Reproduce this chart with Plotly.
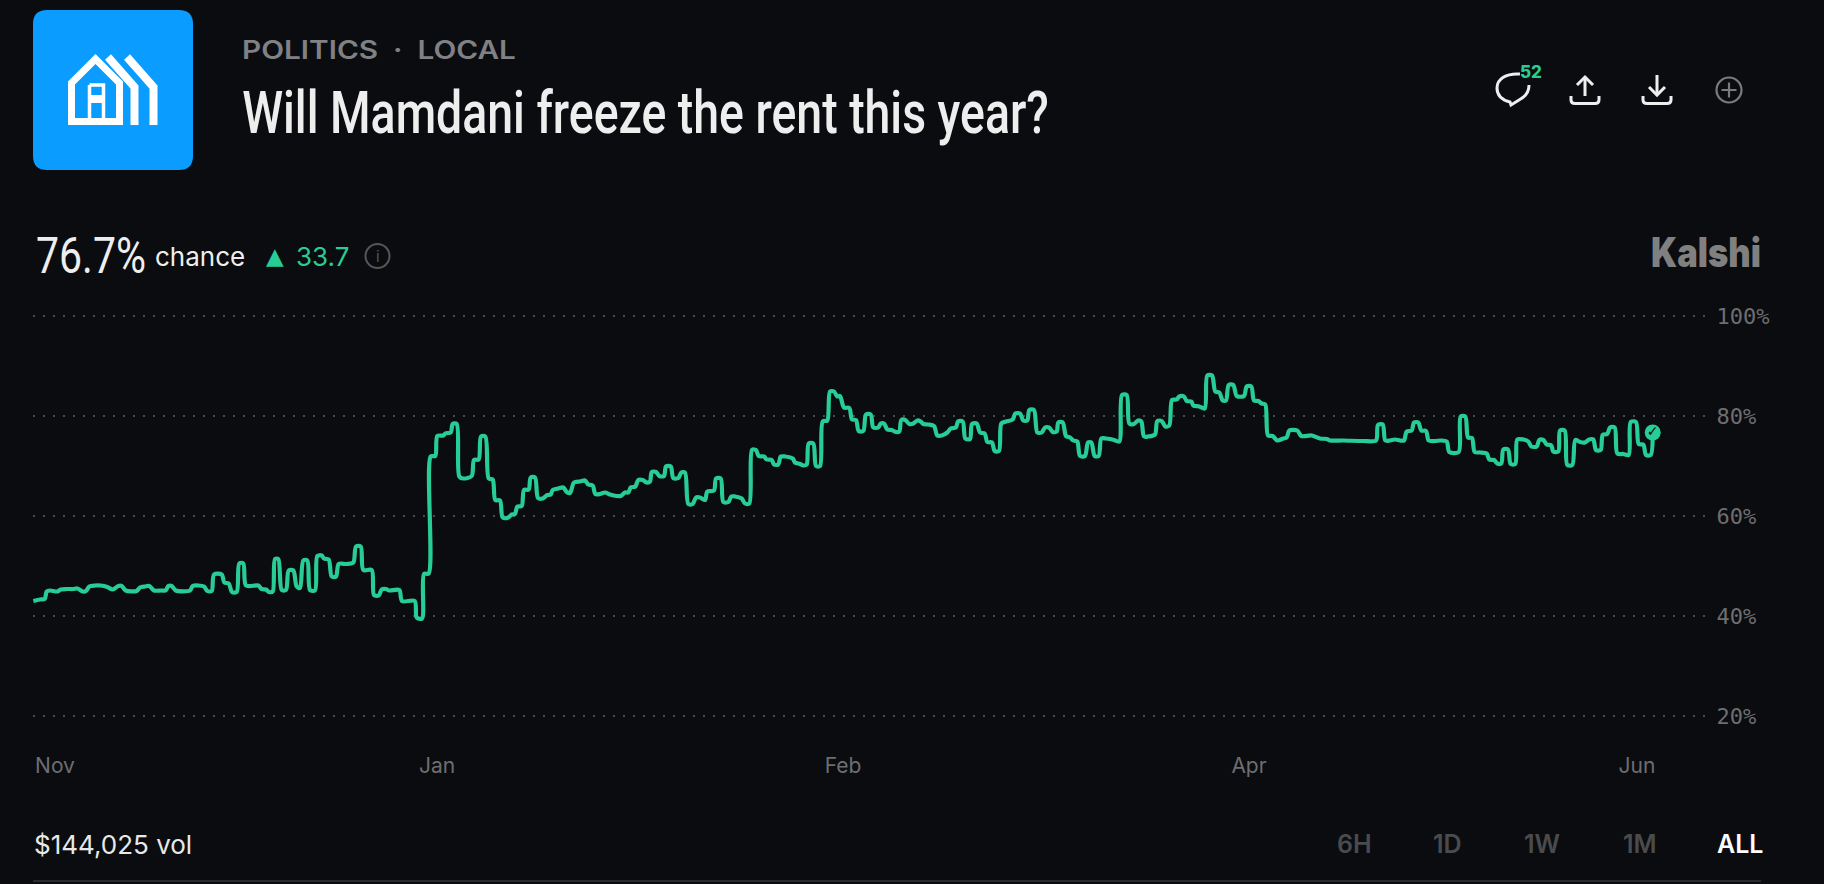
import plotly.graph_objects as go

W, H = 1824, 884

# chart series: sample position and yes price
sample_t = [
    0.3, 7, 11.7, 13.7, 17, 24.3, 27.7, 33.7, 40.3, 44.3, 49.7, 53, 56.3, 62, 67.7, 74.3, 79.7, 85.3, 88.7, 92.7,
    103.7, 107, 112, 116.3, 121, 128.7, 132.7, 135.3, 138.7, 142.7, 157, 159.7, 165.3, 171, 174.3, 178.7, 181,
    188.7, 191.3, 195.7, 199, 203.7, 206.3, 210.3, 213, 225.3, 228.7, 233, 236, 239.7, 242, 245.3, 248.7, 253,
    255.7, 260.3, 263.7, 267, 270.3, 274.3, 277, 282, 284.3, 288.7, 291, 295.7, 298.7, 303, 305.7, 313.7, 320.3,
    323, 327.7, 330.3, 338.7, 341, 345.7, 348.7, 353, 356.3, 366.3, 369, 381.7, 383.7, 389, 391, 395.7, 397.7,
    402.3, 404.3, 410.3, 412.3, 417.7, 419.7, 423.7, 426.3, 430.3, 438.7, 441, 445.7, 448, 452.3, 455.7, 459.7,
    462.3, 467, 469.7, 475.3, 478.7, 482, 484.3, 488.7, 491, 495.7, 497.7, 502, 505, 509.7, 514.3, 517.7, 519.7,
    525.3, 530.3, 533.7, 537, 541, 547, 552, 555.3, 559.7, 562.3, 567, 572, 577, 583.7, 587.7, 592, 595.3, 597.7,
    602.3, 605.3, 609.7, 613.7, 617, 618.7, 623, 626.3, 631, 633, 637.7, 640.3, 645.3, 648.3, 652, 655.3, 659.7,
    663, 667, 672, 674.3, 681, 683, 687.7, 690.3, 695.3, 698.3, 702, 708.7, 712, 716.3, 719, 723, 725.7, 731,
    733.7, 738.7, 741, 745.3, 747.7, 752, 759.7, 762, 767, 770.3, 773.7, 775.7, 780.3, 783, 787, 789.7, 794.3,
    797, 801, 804.3, 807, 811, 816.3, 819, 823, 825.7, 830.3, 833, 837.7, 840.3, 845.3, 847.7, 851, 854.3, 858.7,
    863, 866.3, 868.3, 872.3, 876.3, 880.3, 884.3, 887.7, 890.3, 895.3, 901, 904.3, 908.7, 914.3, 917.7, 923, 925,
    929.7, 932.3, 937, 939, 943.7, 947, 951.7, 954.3, 959, 961.7, 966, 968.3, 973, 979.7, 982.3, 987, 990.3, 994.3,
    996.3, 1001, 1004.3, 1008.7, 1012, 1016, 1019.7, 1023.7, 1025.3, 1029.7, 1033, 1037, 1040.3, 1044.3, 1047, 1052,
    1055, 1058.3, 1061.7, 1065.7, 1068.3, 1073, 1077, 1081, 1086.3, 1089, 1093.7, 1096.3, 1101, 1105, 1108.3, 1111,
    1115.3, 1122, 1124.3, 1128.7, 1132.3, 1136.3, 1139, 1143.7, 1146.3, 1151, 1153.7, 1158.3, 1160.3, 1166.3, 1171.7,
    1174.3, 1179, 1182.3, 1186.3, 1189.7, 1193, 1195.7, 1200.3, 1203.7, 1211, 1213.7, 1218.3, 1221, 1225.3, 1228.7,
    1232.3, 1235, 1239.7, 1244.3, 1250.3, 1253.7, 1256.3, 1264.3, 1268.3, 1278.7, 1287, 1293.7, 1297, 1310.3, 1330.3,
    1343, 1345, 1349.7, 1352.3, 1357, 1362, 1367, 1371, 1373.7, 1378.7, 1381, 1385.3, 1388.3, 1393, 1395.7, 1402,
    1407.7, 1413.7, 1416.3, 1425.7, 1427.7, 1432.3, 1435, 1439, 1441.7, 1447, 1453.7, 1456.3, 1461, 1464.3, 1468.3,
    1470.3, 1475, 1477.7, 1482.3, 1484.3, 1490.3, 1495.3, 1498.3, 1503.7, 1506.3, 1510.3, 1513.7, 1518.3, 1520.3,
    1525.3, 1527, 1531.7, 1534.3, 1539.3, 1542.3, 1547, 1552, 1556.3, 1560.3, 1563, 1567.7, 1569.7, 1574.3, 1577,
    1581.7, 1584.3, 1590.3, 1595.7, 1597.7, 1603, 1605.7, 1610.3, 1613, 1617.7, 1619.7,
]
chance_pct = [
    43.0, 43.3, 43.4, 44.9, 45.1, 44.9, 45.3, 45.4, 45.4, 45.5, 44.9, 45.0, 45.9, 46.1, 46.1, 45.8, 45.3, 46.0, 46.0, 45.1,
    45.0, 45.7, 45.9, 46.0, 45.1, 45.1, 45.1, 46.0, 46.0, 45.1, 45.1, 46.0, 46.1, 45.9, 45.0, 45.0, 48.3,
    48.3, 46.7, 46.5, 44.8, 44.8, 50.5, 50.5, 46.1, 46.1, 45.4, 45.3, 44.8, 44.9, 51.4, 51.4, 45.2, 45.2,
    49.1, 49.1, 45.9, 45.6, 51.1, 51.1, 45.2, 45.1, 52.0, 52.1, 51.5, 51.3, 47.9, 47.9, 50.4, 50.4, 50.7,
    53.9, 53.9, 49.2, 49.2, 44.2, 44.1, 45.3, 45.4, 45.1, 45.2, 43.0, 43.0, 39.7, 39.5, 48.4, 48.5, 71.9,
    72.0, 76.0, 76.1, 76.5, 76.7, 78.4, 78.4, 67.9, 67.5, 68.0, 71.2, 71.3, 75.9, 75.9, 67.5, 67.3,
    63.2, 63.1, 59.7, 59.7, 60.3, 60.4, 61.9, 62.0, 65.2, 65.3, 67.7, 67.7, 63.6, 63.5, 64.2, 64.3, 65.2,
    65.5, 65.7, 64.8, 64.6, 66.7, 66.9, 67.1, 66.3, 66.1, 64.4, 64.4, 64.7, 64.3, 64.0, 64.0, 64.7, 64.7, 65.7,
    65.9, 67.2, 67.2, 66.7, 66.9, 68.8, 68.8, 68.0, 68.0, 69.9, 69.9, 67.6, 67.6, 68.7, 68.7, 62.4, 62.4,
    63.7, 63.7, 63.2, 64.9, 65.1, 67.5, 67.5, 62.8, 62.8, 63.9, 63.9, 63.5, 62.5, 62.5, 73.2, 73.2, 72.0, 71.9,
    71.3, 71.2, 70.3, 70.3, 71.9, 71.9, 71.5, 70.7, 70.4, 70.1, 70.3, 74.5, 74.5, 70.0, 70.0, 78.9, 79.1,
    84.9, 84.9, 83.9, 84.0, 81.7, 81.6, 79.3, 79.2, 77.0, 77.0, 80.3, 80.3, 77.7, 77.7, 78.5, 78.5, 77.3, 77.2,
    76.8, 76.9, 79.2, 79.2, 78.4, 78.5, 79.1, 78.9, 78.4, 78.3, 78.0, 76.1, 76.1, 76.7, 77.5, 77.7, 78.9,
    78.9, 75.5, 75.4, 78.4, 78.5, 76.7, 76.5, 74.8, 74.7, 73.0, 73.0, 78.5, 78.9, 79.3, 80.5, 80.5, 79.1, 79.1,
    81.2, 81.2, 76.7, 76.7, 77.7, 77.7, 76.8, 76.9, 78.7, 78.7, 76.0, 75.7, 75.1, 74.9, 72.0, 72.0,
    74.7, 74.7, 72.0, 72.0, 75.5, 75.5, 75.4, 75.2, 74.9, 84.2, 84.2, 78.5, 78.4, 79.1, 78.9, 75.9,
    75.9, 76.3, 79.0, 79.0, 77.9, 78.1, 83.2, 83.3, 83.9, 83.9, 83.0, 82.9, 82.1, 81.9, 81.5,
    88.1, 88.1, 84.9, 84.7, 83.1, 83.1, 86.2, 86.2, 84.0, 84.0, 85.9, 85.9, 83.1, 83.0, 82.5,
    82.3, 76.1, 76.0, 75.1, 75.5, 75.7, 77.1, 77.1, 76.0, 76.1, 75.5, 75.4, 75.1, 75.1, 75.0,
    75.1, 78.2, 78.3, 75.1, 75.1, 75.3, 75.1, 75.1, 76.9, 77.1, 78.7, 78.7, 77.1, 77.0, 75.1, 75.0,
    75.1, 74.9, 72.8, 72.8, 79.9, 79.9, 75.7, 75.6, 72.8, 72.7, 72.5, 71.3, 71.2, 70.5, 70.5,
    73.3, 73.3, 70.4, 70.4, 75.3, 75.3, 74.9, 73.9, 73.9, 75.2, 75.2, 74.3, 74.1, 72.9,
    72.9, 77.1, 77.1, 70.2, 70.2, 75.2, 74.8, 74.7, 75.3, 75.3, 73.2, 73.2, 76.2, 76.4, 77.7,
    77.7, 72.5, 72.4, 72.2, 78.8, 78.8, 74.4, 74.3, 72.2, 72.2, 76.7,
]

month_ticks = [22, 404, 810, 1216, 1604]
month_labels = ["Nov", "Jan", "Feb", "Apr", "Jun"]
pct_ticks = [20, 40, 60, 80, 100]
pct_labels = ["20%", "40%", "60%", "80%", "100%"]
range_labels = ["6H", "1D", "1W", "1M", "ALL"]

BG = "#0a0c10"
GREEN = "#28cc95"
BLUE = "#0a9cff"
WHITE = "#eeeeee"
DISPLAY = "Roboto"
SANS = "Inter"


def px(x):
    return x / W


def py(y):
    return 1 - y / H


def label(text, x, y, size, color, family=SANS, weight=400, anchor="left"):
    fig.add_annotation(text=text, x=px(x), y=py(y), xref="paper", yref="paper",
                       xanchor=anchor, yanchor="middle", showarrow=False,
                       borderpad=0,
                       font=dict(size=size, color=color, family=family, weight=weight))


def path_str(cmds):
    # cmds: list of (letter, x, y, ...) in page pixels
    out = []
    for c in cmds:
        if c[0] == "Z":
            out.append("Z")
            continue
        nums = c[1:]
        pts = []
        for i in range(0, len(nums), 2):
            pts.append(f"{px(nums[i]):.5f},{py(nums[i + 1]):.5f}")
        out.append(c[0] + " " + " ".join(pts))
    return " ".join(out)


def draw(cmds, color=None, width=0, fill=None):
    fig.add_shape(type="path", path=path_str(cmds), xref="paper", yref="paper",
                  line=dict(color=color or "rgba(0,0,0,0)", width=width),
                  fillcolor=fill or "rgba(0,0,0,0)", layer="above")


def circle(cx, cy, r, color, width):
    fig.add_shape(type="circle", xref="paper", yref="paper",
                  x0=px(cx - r), x1=px(cx + r), y0=py(cy + r), y1=py(cy - r),
                  line=dict(color=color, width=width), layer="above")


fig = go.Figure()

fig.add_trace(go.Scatter(x=sample_t, y=chance_pct, mode="lines",
                         line=dict(color=GREEN, width=4.2, shape="spline", smoothing=0.8, simplify=False),
                         hoverinfo="skip", showlegend=False))
fig.add_trace(go.Scatter(x=sample_t[-1:], y=chance_pct[-1:], mode="markers+text",
                         marker=dict(color=GREEN, size=16), text=["✓"], textposition="middle center",
                         textfont=dict(color=BG, size=14, family="DejaVu Sans"),
                         hoverinfo="skip", showlegend=False))

fig.update_layout(
    width=W, height=H,
    margin=dict(l=0, r=0, t=0, b=0, autoexpand=False),
    paper_bgcolor=BG, plot_bgcolor=BG,
    showlegend=False,
    xaxis=dict(domain=[px(33), px(1705)], range=[0, 1672], tickmode="array", automargin=False,
               tickvals=month_ticks, ticktext=month_labels, showgrid=False, zeroline=False,
               showline=False, ticks="outside", ticklen=26, tickcolor="rgba(0,0,0,0)",
               tickfont=dict(size=21, color="#6e6e70", family=SANS)),
    # 5 px of spare room either side so the 20% and 100% rules are not dropped at the plot edge
    yaxis=dict(domain=[py(721), py(311)], range=[19, 101], side="right", tickmode="array", automargin=False,
               tickvals=pct_ticks, ticktext=pct_labels, showgrid=True, griddash="2px,8px",
               gridcolor="#4a4b4e", gridwidth=1.5, zeroline=False, showline=False,
               ticks="outside", ticklen=6, tickcolor="rgba(0,0,0,0)",
               tickfont=dict(size=22, color="#6e6e70", family="DejaVu Sans Mono")),
)

# header tile
draw([("M", 47, 10), ("L", 179, 10), ("Q", 193, 10, 193, 24), ("L", 193, 156), ("Q", 193, 170, 179, 170),
      ("L", 47, 170), ("Q", 33, 170, 33, 156), ("L", 33, 24), ("Q", 33, 10, 47, 10), ("Z",)], fill=BLUE)
draw([("M", 95.5, 59), ("L", 71.5, 83), ("L", 71.5, 121.5), ("L", 119.5, 121.5), ("L", 119.5, 83), ("Z",)],
     color="#ffffff", width=7)
# the A in the doorway: frame plus crossbar
draw([("M", 89.5, 85), ("L", 103.5, 85), ("L", 103.5, 118), ("M", 89.5, 85), ("L", 89.5, 118)],
     color="#ffffff", width=3.5)
draw([("M", 88, 95), ("L", 105, 95), ("L", 105, 103), ("L", 88, 103), ("Z",)], fill="#ffffff")
draw([("M", 108, 57), ("L", 134.5, 87), ("L", 134.5, 125)], color="#ffffff", width=8)
draw([("M", 127, 57), ("L", 153.5, 87), ("L", 153.5, 125)], color="#ffffff", width=8)

# header text
label("POLITICS  ·  LOCAL", 241, 50, 25, "#808184", weight=600)
label("Will Mamdani freeze the rent this year?", 241, 113, 60, WHITE, family=DISPLAY, weight=500)
label("76.7%", 35, 256, 50, WHITE, family=DISPLAY, weight=400)
label("chance", 154, 256, 26, WHITE)
label("▲", 265, 256, 23, GREEN, family="DejaVu Sans")
label("33.7", 295, 256, 26, GREEN)
circle(377.5, 256, 12, "#55565a", 2)
label("i", 377.5, 256, 15, "#55565a", anchor="center")
label("Kalshi", 1650, 252, 41, "#808080", weight=900)

# header icons
draw([("M", 1520, 74), ("C", 1506, 73, 1497, 79, 1497, 88), ("C", 1497, 95, 1502, 100, 1510, 102),
      ("L", 1511, 105), ("L", 1519, 100), ("C", 1525, 97, 1529, 93, 1529, 85)], color=WHITE, width=3)
label("52", 1519, 72, 17, GREEN, weight=800)
draw([("M", 1585, 77), ("L", 1585, 96)], color=WHITE, width=3)
draw([("M", 1577, 85), ("L", 1585, 77), ("L", 1593, 85)], color=WHITE, width=3)
draw([("M", 1571, 96), ("L", 1571, 100), ("Q", 1571, 103.5, 1575, 103.5), ("L", 1595, 103.5),
      ("Q", 1599, 103.5, 1599, 100), ("L", 1599, 96)], color=WHITE, width=3)
draw([("M", 1657, 75), ("L", 1657, 94)], color=WHITE, width=3)
draw([("M", 1649, 87), ("L", 1657, 95), ("L", 1665, 87)], color=WHITE, width=3)
draw([("M", 1643, 96), ("L", 1643, 100), ("Q", 1643, 103.5, 1647, 103.5), ("L", 1667, 103.5),
      ("Q", 1671, 103.5, 1671, 100), ("L", 1671, 96)], color=WHITE, width=3)
circle(1729, 90, 12.5, "#7a7b7d", 2.2)
draw([("M", 1721.5, 90), ("L", 1736.5, 90), ("M", 1729, 82.5), ("L", 1729, 97.5)], color="#7a7b7d", width=2.2)

# footer
label("$144,025 vol", 33, 844, 26, "#e8e8e8")
for txt, cx in zip(range_labels, [1354, 1447, 1542, 1640, 1740]):
    active = txt == "ALL"
    label(txt, cx, 844, 25, "#ffffff" if active else "#4a4b4d", weight=600, anchor="center")
draw([("M", 33, 880), ("L", 1761, 880), ("L", 1761, 882), ("L", 33, 882), ("Z",)], fill="#2a2b2e")

# squeeze the condensed headline text to the widths it has in the picture (no condensed font installed)
fit_js = """
document.body.style.margin='0';document.body.style.overflow='hidden';
var fits={'Will Mamdani freeze the rent this year?':807,'76.7%':110,'Kalshi':110,'POLITICS  ·  LOCAL':274};
document.querySelectorAll('text.annotation-text').forEach(function(t){
  var w=fits[t.getAttribute('data-unformatted')];
  if(!w)return;
  t.style.whiteSpace='pre';
  t.style.transformBox='fill-box';t.style.transformOrigin='left center';
  t.style.transform='scaleX('+(w/t.getBBox().width)+')';
});
"""
fig.write_html("out.html", config=dict(displayModeBar=False), post_script=fit_js)
